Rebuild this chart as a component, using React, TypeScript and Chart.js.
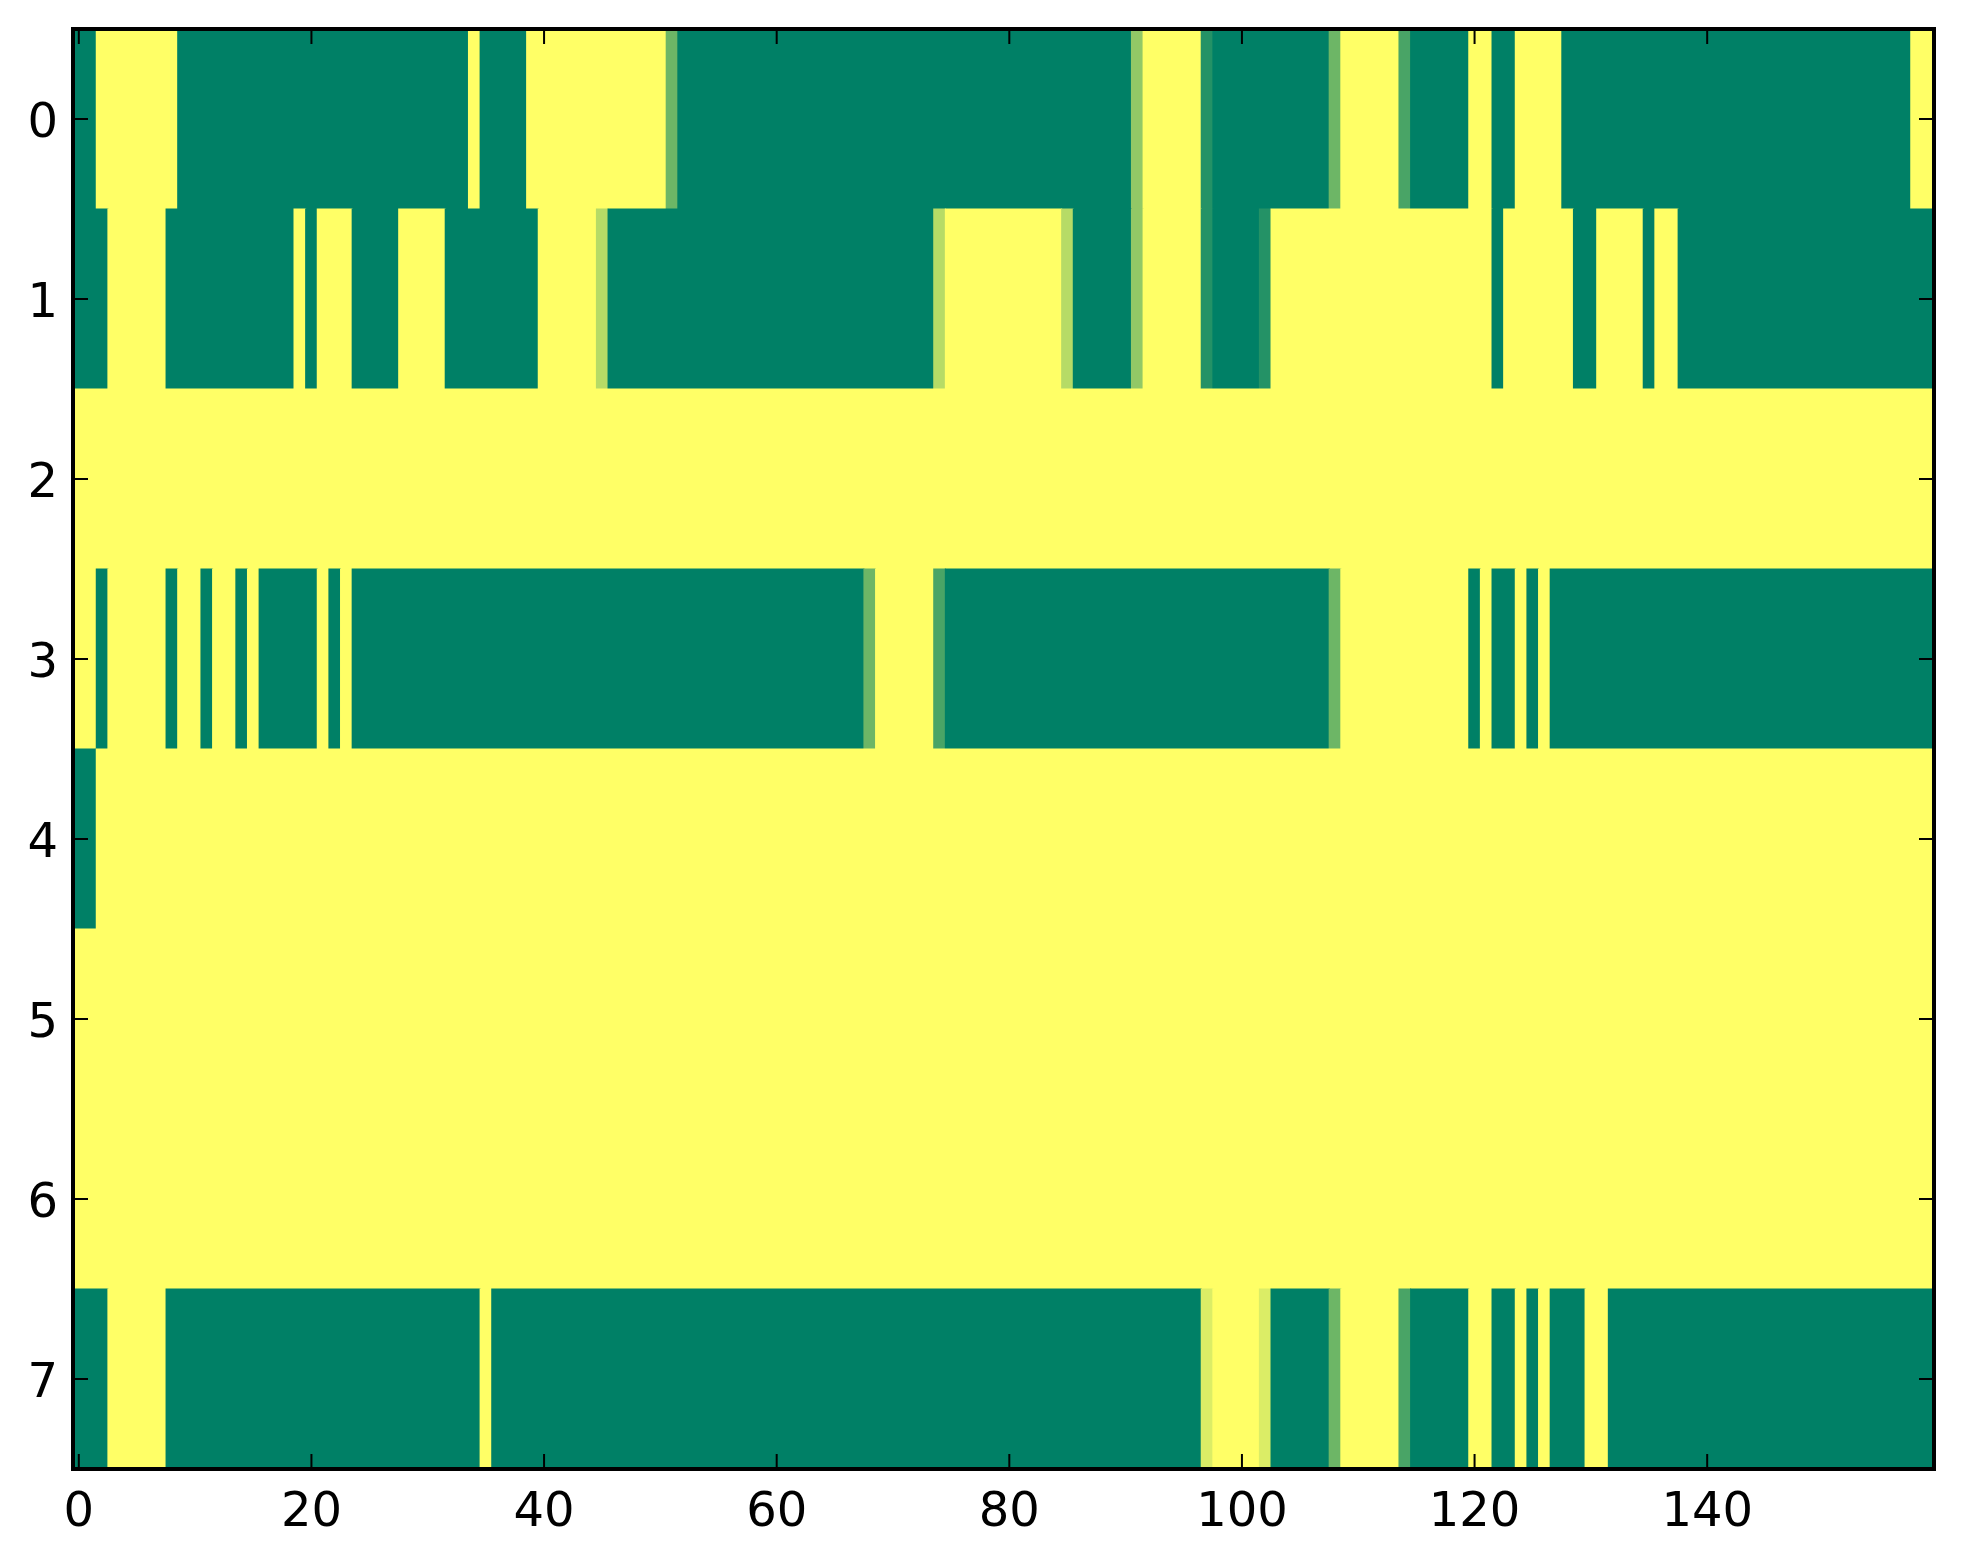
import React, { useEffect, useRef } from "react";
import { Chart, registerables } from "chart.js";

Chart.register(...registerables);

// Heat-map values, stored per row as runs of [level (in sevenths, 0..7), number of columns]
const N_COLS = 160;
const LEVELS = 7;

const row0 = [[0, 2], [7, 7], [0, 25], [7, 1], [0, 4], [7, 12], [3, 1], [0, 39], [4, 1], [7, 5], [1, 1], [0, 10], [3, 1], [7, 5], [2, 1], [0, 5], [7, 2], [0, 2], [7, 4], [0, 30], [7, 2]];
const row1 = [[0, 3], [7, 5], [0, 11], [7, 1], [0, 1], [7, 3], [0, 4], [7, 4], [0, 8], [7, 5], [5, 1], [0, 28], [5, 1], [7, 10], [5, 1], [0, 5], [4, 1], [7, 5], [1, 1], [0, 4], [1, 1], [7, 19], [0, 1], [7, 6], [0, 2], [7, 4], [0, 1], [7, 2], [0, 22]];
const row2 = [[7, 160]];
const row3 = [[7, 2], [0, 1], [7, 5], [0, 1], [7, 2], [0, 1], [7, 2], [0, 1], [7, 1], [0, 5], [7, 1], [0, 1], [7, 1], [0, 44], [3, 1], [7, 5], [2, 1], [0, 33], [3, 1], [7, 11], [0, 1], [7, 1], [0, 2], [7, 1], [0, 1], [7, 1], [0, 33]];
const row4 = [[0, 2], [7, 158]];
const row5 = [[7, 160]];
const row6 = [[7, 160]];
const row7 = [[0, 3], [7, 5], [0, 27], [7, 1], [0, 61], [6, 1], [7, 4], [6, 1], [0, 5], [3, 1], [7, 5], [2, 1], [0, 5], [7, 2], [0, 2], [7, 1], [0, 1], [7, 1], [0, 3], [7, 2], [0, 28]];

const rows = [row0, row1, row2, row3, row4, row5, row6, row7];

const xTickValues = [0, 20, 40, 60, 80, 100, 120, 140];
const yTickValues = [0, 1, 2, 3, 4, 5, 6, 7];

// matplotlib "summer" colormap
function summer(v: number): string {
  const r = Math.round(255 * v);
  const g = Math.round(255 * (0.5 + 0.5 * v));
  const b = 102;
  return `rgb(${r}, ${g}, ${b})`;
}

function buildData() {
  const points: { x: [number, number]; y: number }[] = [];
  const colors: string[] = [];
  rows.forEach((runs, r) => {
    let col = 0;
    runs.forEach(([lvl, n]) => {
      points.push({ x: [col - 0.5, Math.min(col + n, N_COLS) - 0.5], y: r });
      colors.push(summer(lvl / LEVELS));
      col += n;
    });
  });
  return { points, colors };
}

const FONT = '48px "DejaVu Sans", "Liberation Sans", sans-serif';

const mplAxes = {
  id: "mplAxes",
  afterDraw(chart: any) {
    const { ctx, chartArea: a, scales } = chart;
    const xs = scales.x;
    const ys = scales.y;
    const tickLen = 15;
    ctx.save();
    ctx.strokeStyle = "#000";
    ctx.lineWidth = 2;
    ctx.beginPath();
    for (const v of xTickValues) {
      const px = xs.getPixelForValue(v);
      ctx.moveTo(px, a.bottom);
      ctx.lineTo(px, a.bottom - tickLen);
      ctx.moveTo(px, a.top);
      ctx.lineTo(px, a.top + tickLen);
    }
    for (const v of yTickValues) {
      const py = ys.getPixelForValue(v);
      ctx.moveTo(a.left, py);
      ctx.lineTo(a.left + tickLen, py);
      ctx.moveTo(a.right, py);
      ctx.lineTo(a.right - tickLen, py);
    }
    ctx.stroke();

    ctx.lineWidth = 4;
    ctx.strokeRect(a.left, a.top, a.right - a.left, a.bottom - a.top);

    ctx.fillStyle = "#000";
    ctx.font = FONT;
    ctx.textBaseline = "alphabetic";
    ctx.textAlign = "center";
    for (const v of xTickValues) {
      ctx.fillText(String(v), xs.getPixelForValue(v), a.bottom + 57);
    }
    ctx.textAlign = "right";
    for (const v of yTickValues) {
      ctx.fillText(String(v), a.left - 15, ys.getPixelForValue(v) + 17.5);
    }
    ctx.restore();
  },
};

export default function App() {
  const ref = useRef<HTMLCanvasElement | null>(null);

  useEffect(() => {
    if (!ref.current) return;
    const { points, colors } = buildData();
    const chart = new Chart(ref.current, {
      type: "bar",
      data: {
        datasets: [
          {
            data: points as any,
            backgroundColor: colors,
            borderWidth: 0,
            categoryPercentage: 1,
            barPercentage: 1,
            inflateAmount: 0.5,
          } as any,
        ],
      },
      options: {
        indexAxis: "y",
        animation: false,
        responsive: false,
        devicePixelRatio: 1,
        events: [],
        layout: { padding: { left: 73, top: 29, right: 29, bottom: 95 } },
        plugins: { legend: { display: false }, tooltip: { enabled: false } },
        scales: {
          x: {
            type: "linear",
            min: -0.5,
            max: N_COLS - 0.5,
            offset: false,
            display: false,
            afterBuildTicks: (scale: any) => {
              scale.ticks = xTickValues.map((v) => ({ value: v }));
            },
          },
          y: {
            type: "linear",
            min: -0.5,
            max: rows.length - 0.5,
            reverse: true,
            offset: false,
            grid: { offset: false },
            display: false,
            afterBuildTicks: (scale: any) => {
              scale.ticks = yTickValues.map((v) => ({ value: v }));
            },
          },
        },
      },
      plugins: [mplAxes],
    });
    return () => chart.destroy();
  }, []);

  return (
    <canvas
      ref={ref}
      width={1963}
      height={1564}
      style={{ position: "absolute", left: 0, top: 0, width: 1963, height: 1564, background: "#fff" }}
    />
  );
}
